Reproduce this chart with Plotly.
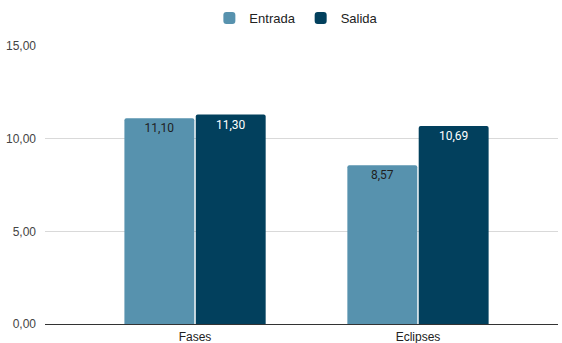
import plotly.graph_objects as go

categories = ["Fases", "Eclipses"]
entrada = [11.10, 8.57]
salida = [11.30, 10.69]
tick_vals = [0, 5, 10, 15]

fig = go.Figure()
fig.add_trace(go.Bar(
    name="Entrada", x=categories, y=entrada,
    marker=dict(color="#5792ae", line=dict(width=0)),
    texttemplate="%{y:.2f}", textposition="inside", insidetextanchor="end",
    textfont=dict(family="Roboto", size=12, color="#1f1f1f"),
))
fig.add_trace(go.Bar(
    name="Salida", x=categories, y=salida,
    marker=dict(color="#02405d", line=dict(width=0)),
    texttemplate="%{y:.2f}", textposition="inside", insidetextanchor="end",
    textfont=dict(family="Roboto", size=12, color="#ffffff"),
))

fig.update_layout(
    width=562, height=343,
    margin=dict(l=45, r=4, t=45, b=19),
    paper_bgcolor="white", plot_bgcolor="white",
    separators=",.",
    barmode="group", bargap=0.36, bargroupgap=0.02, barcornerradius=2,
    font=dict(family="Liberation Sans, Arial", size=12, color="#444444"),
    legend=dict(orientation="h", x=0.49, xanchor="center", y=1.097, yanchor="middle",
                font=dict(family="Liberation Sans, Arial", size=13, color="#222222"),
                itemwidth=30, bgcolor="rgba(0,0,0,0)"),
    xaxis=dict(range=[-0.673, 1.628], showgrid=False, ticks="",
               tickfont=dict(family="Liberation Sans, Arial", size=12, color="#222222"),
               showline=False, zeroline=False, ticklabelstandoff=4, automargin=False),
    yaxis=dict(range=[0, 15], tickvals=tick_vals, tickformat=".2f",
               showgrid=True, gridcolor="#d9d9d9", gridwidth=1,
               zeroline=True, zerolinecolor="#333333", zerolinewidth=1,
               ticks="", tickfont=dict(family="Liberation Sans, Arial", size=12, color="#444444"),
               ticklabelstandoff=8, automargin=False),
)

fig.write_html("out.html")
